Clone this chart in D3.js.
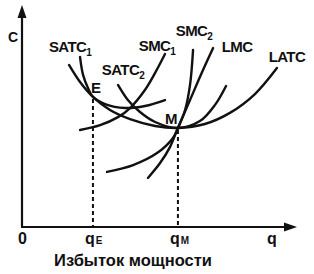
<!DOCTYPE html>
<html>
<head>
<meta charset="utf-8">
<script src="https://cdn.jsdelivr.net/npm/d3@7"></script>
<style>
  body { margin: 0; background: #fff; }
  text { font-family: "Liberation Sans", Arial, sans-serif; font-weight: bold; fill: #111; }
</style>
</head>
<body>
<div id="chart"></div>
<script>
// curve points, [q, C] in chart units (0..100 on both axes)
const latc  = [[17.1, 73.0], [21.1, 65.3], [25.8, 58.6], [32.0, 52.7], [39.3, 48.6], [48.4, 45.5], [56.7, 44.6], [66.5, 46.4], [75.6, 51.4], [84.7, 59.9], [92.7, 71.6]]
const satc1 = [[21.1, 76.6], [22.2, 68.5], [24.0, 62.6], [25.8, 58.6], [30.2, 55.4], [37.5, 53.6], [44.7, 54.5], [52.0, 57.2]]
const satc2 = [[34.9, 64.0], [38.5, 57.2], [42.9, 51.8], [48.4, 47.3], [56.7, 44.6], [64.7, 47.7], [70.2, 55.0], [74.2, 63.5]]
const smc1  = [[21.1, 43.7], [28.4, 45.9], [34.9, 49.5], [39.3, 53.6], [44.7, 61.7], [48.4, 69.4], [52.0, 77.9]]
const smc2  = [[30.9, 24.8], [40.4, 27.9], [49.1, 33.3], [54.9, 40.1], [56.7, 44.6], [59.3, 52.7], [61.1, 64.0], [62.2, 79.7]]
const lmc   = [[45.8, 22.1], [50.2, 28.8], [53.8, 36.0], [56.7, 44.6], [61.1, 57.2], [65.5, 69.8], [69.5, 80.6]]

const curveNames = ["LATC", "SATC", "SATC", "SMC", "SMC", "LMC"]
const curveSubs  = ["", "1", "2", "1", "2", ""]

// points E and M and the q marks on the axis
const pointNames = ["E", "M"]
const pointQ = [25.8, 56.7]
const pointC = [58.6, 44.6]
const xMarkValues = [0, 25.8, 56.7, 92]
const xMarkNames  = ["0", "q", "q", "q"]
const xMarkSubs   = ["", "E", "M", ""]
const axisTitleY = "C"
const axisTitleX = "Избыток мощности"

const width = 314, height = 274

const svg = d3.select("#chart").append("svg")
  .attr("width", width)
  .attr("height", height)

const x = d3.scaleLinear().domain([0, 100]).range([22, 297])
const y = d3.scaleLinear().domain([0, 100]).range([227, 5])

// axes
svg.append("line")
  .attr("x1", x(0)).attr("y1", y(0))
  .attr("x2", x(0)).attr("y2", y(100) + 8)
  .attr("stroke", "#111").attr("stroke-width", 2.2)
svg.append("line")
  .attr("x1", x(0) - 1).attr("y1", y(0))
  .attr("x2", x(100) - 8).attr("y2", y(0))
  .attr("stroke", "#111").attr("stroke-width", 2.2)
// arrow heads
svg.append("path")
  .attr("d", `M${x(0)},${y(100)} l-4.5,13 l9,0 z`)
  .attr("fill", "#111")
svg.append("path")
  .attr("d", `M${x(100)},${y(0)} l-13,-4.5 l0,9 z`)
  .attr("fill", "#111")

// dashed drop lines
svg.selectAll(".drop")
  .data(pointQ)
  .enter()
  .append("line")
  .attr("class", "drop")
  .attr("x1", d => x(d)).attr("x2", d => x(d))
  .attr("y1", (d, i) => y(pointC[i]) + 2)
  .attr("y2", y(0))
  .attr("stroke", "#111")
  .attr("stroke-width", 2)
  .attr("stroke-dasharray", "4,3")

// curves
const line = d3.line()
  .x(d => x(d[0]))
  .y(d => y(d[1]))
  .curve(d3.curveCatmullRom.alpha(0.5))

const curves = [latc, satc1, satc2, smc1, smc2, lmc]

svg.selectAll(".cost")
  .data(curves)
  .enter()
  .append("path")
  .attr("class", "cost")
  .attr("d", line)
  .attr("fill", "none")
  .attr("stroke", "#111")
  .attr("stroke-width", 2.4)
  .attr("stroke-linecap", "round")

// curve labels, placed next to the upper end of each curve
const labelAt = [
  {end: "last",  dx: 10,  dy: -6},   // LATC
  {end: "first", dx: -10, dy: -5},   // SATC1
  {end: "first", dx: 5,   dy: -10},  // SATC2
  {end: "last",  dx: -8,  dy: -3},   // SMC1
  {end: "last",  dx: 1,   dy: -14},  // SMC2
  {end: "last",  dx: 24,  dy: 4}     // LMC
]

const labels = svg.selectAll(".lbl")
  .data(curves)
  .enter()
  .append("text")
  .attr("class", "lbl")
  .attr("text-anchor", "middle")
  .attr("font-size", 15)
  .attr("letter-spacing", -0.6)
  .attr("x", (d, i) => {
    const p = labelAt[i].end == "last" ? d[d.length - 1] : d[0]
    return x(p[0]) + labelAt[i].dx
  })
  .attr("y", (d, i) => {
    const p = labelAt[i].end == "last" ? d[d.length - 1] : d[0]
    return y(p[1]) + labelAt[i].dy
  })
labels.append("tspan").text((d, i) => curveNames[i])
labels.append("tspan")
  .attr("font-size", 10)
  .attr("dy", 4)
  .text((d, i) => curveSubs[i])

// E and M
svg.selectAll(".pt")
  .data(pointNames)
  .enter()
  .append("text")
  .attr("class", "pt")
  .attr("font-size", 15)
  .attr("x", (d, i) => x(pointQ[i]) + (i == 0 ? -2 : -13))
  .attr("y", (d, i) => y(pointC[i]) - (i == 0 ? 4 : 4))
  .text(d => d)

// axis marks
const marks = svg.selectAll(".mark")
  .data(xMarkValues)
  .enter()
  .append("text")
  .attr("class", "mark")
  .attr("font-size", 16)
  .attr("x", (d, i) => x(d) - (i == 0 ? 4 : 8))
  .attr("y", y(0) + 17)
marks.append("tspan").text((d, i) => xMarkNames[i])
marks.append("tspan")
  .attr("font-size", 10)
  .attr("dx", 1)
  .text((d, i) => xMarkSubs[i])

svg.append("text")
  .attr("x", 8)
  .attr("y", 42)
  .attr("font-size", 14)
  .text(axisTitleY)

svg.append("text")
  .attr("x", 133)
  .attr("y", 266)
  .attr("text-anchor", "middle")
  .attr("font-size", 16.5)
  .attr("letter-spacing", 0)
  .text(axisTitleX)
</script>
</body>
</html>
